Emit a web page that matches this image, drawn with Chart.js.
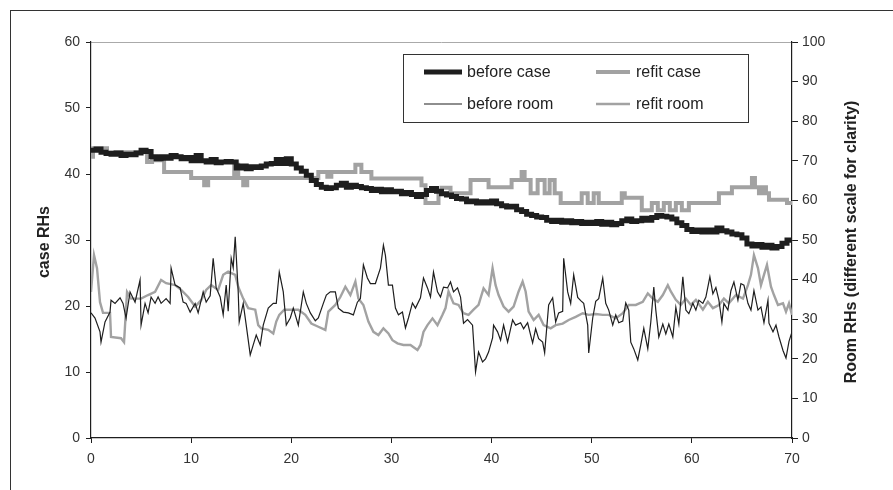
<!DOCTYPE html>
<html>
<head>
<meta charset="utf-8">
<script src="https://cdn.jsdelivr.net/npm/chart.js@4.4.1/dist/chart.umd.min.js"></script>
<style>
  html, body { margin: 0; padding: 0; background: #fff; }
  #wrap { width: 893px; height: 490px; position: relative; }
</style>
</head>
<body>
<div id="wrap"><canvas id="chart" width="893" height="490"></canvas></div>
<script>
// days on the x axis, RH values
const beforeCaseDays = [0, 0.5, 1, 1.5, 2, 2.5, 3, 3.5, 4, 4.5, 5, 5.5, 6, 6.5, 7, 7.5, 8, 8.5, 9, 9.5,
  10, 10.5, 11, 11.5, 12, 12.5, 13, 13.5, 14, 14.5, 15, 15.5, 16, 16.5, 17, 17.5, 18, 18.5, 19, 19.5,
  20, 20.5, 21, 21.5, 22, 22.5, 23, 23.5, 24, 24.5, 25, 25.5, 26, 26.5, 27, 27.5, 28, 28.5, 29, 29.5,
  30, 30.5, 31, 31.5, 32, 32.5, 33, 33.5, 34, 34.5, 35, 35.5, 36, 36.5, 37, 37.5, 38, 38.5, 39, 39.5,
  40, 40.5, 41, 41.5, 42, 42.5, 43, 43.5, 44, 44.5, 45, 45.5, 46, 46.5, 47, 47.5, 48, 48.5, 49, 49.5,
  50, 50.5, 51, 51.5, 52, 52.5, 53, 53.5, 54, 54.5, 55, 55.5, 56, 56.5, 57, 57.5, 58, 58.5, 59, 59.5,
  60, 60.5, 61, 61.5, 62, 62.5, 63, 63.5, 64, 64.5, 65, 65.5, 66, 66.5, 67, 67.5, 68, 68.5, 69, 69.5, 70];
const beforeCaseRH = [43.6, 43.8, 43.3, 43.1, 43.0, 43.2, 42.8, 43.0, 42.9, 43.2, 43.6, 43.4, 42.6, 42.3, 42.6, 42.4, 42.8, 42.6, 42.3, 42.5,
  42.0, 42.8, 42.0, 41.8, 42.2, 41.7, 41.8, 41.9, 41.8, 40.9, 41.2, 40.8, 41.1, 41.0, 41.2, 41.5, 41.6, 42.2, 41.6, 42.3,
  41.5, 40.9, 40.4, 39.8, 39.0, 38.4, 38.0, 37.8, 37.9, 38.3, 38.6, 38.0, 38.3, 38.1, 37.9, 37.8, 37.5, 37.7, 37.3, 37.6,
  37.3, 37.4, 37.0, 37.2, 36.9, 36.6, 36.9, 37.5, 37.8, 37.4, 37.0, 36.8, 36.6, 36.3, 36.2, 35.8, 35.9, 35.6, 35.8, 35.6,
  35.9, 35.5, 35.2, 35.0, 35.1, 34.6, 34.3, 33.9, 33.7, 33.5, 33.4, 33.0, 32.8, 33.0, 32.7, 32.9, 32.6, 32.8, 32.5, 32.7,
  32.5, 32.8, 32.4, 32.7, 32.3, 32.5, 32.9, 33.2, 32.8, 32.9, 33.3, 33.0, 33.4, 33.7, 33.6, 33.5, 33.2, 32.6, 32.2, 31.6,
  31.3, 31.5, 31.2, 31.5, 31.2, 31.8, 31.4, 31.2, 30.9, 30.8, 30.3, 29.4, 29.1, 29.3, 28.9, 29.2, 28.8, 29.0, 29.5, 30.0, 29.6];

// refit case is logged in steps: day where each new level starts
const refitCaseDays = [0, 0.2, 1.6, 5.6, 6.1, 7.3, 10.0, 11.3, 11.7, 14.3, 14.7, 15.2, 15.6, 22.7, 23.6, 24.0, 26.4, 27.0, 28.0,
  33.0, 33.4, 34.7, 35.0, 35.9, 37.9, 39.7, 42.0, 43.0, 43.3, 43.9, 44.6, 45.3, 45.8, 46.3, 46.9,
  49.0, 49.6, 50.2, 50.7, 53.0, 53.3, 55.0, 56.0, 56.6, 57.2, 57.8, 58.4, 59.0, 59.7, 62.7, 64.0,
  66.0, 66.3, 66.7, 67.0, 67.4, 67.7, 69.5, 70];
const refitCaseRH = [42.6, 43.9, 43.3, 41.8, 42.1, 40.3, 39.4, 38.3, 39.4, 41.4, 39.4, 38.3, 39.4, 40.3, 39.6, 40.3, 41.4, 40.3, 39.3,
  38.3, 35.6, 37.3, 37.9, 37.1, 39.1, 38.0, 39.1, 40.3, 39.1, 37.1, 39.1, 37.1, 39.1, 37.1, 35.6,
  37.1, 35.6, 37.1, 35.6, 37.1, 36.4, 34.5, 35.6, 34.5, 35.6, 34.5, 35.6, 34.5, 35.6, 37.1, 38.0,
  39.4, 38.0, 37.1, 38.0, 37.1, 36.1, 35.6, 35.6];

const beforeRoomDays = [0, 0.4, 0.9, 1.0, 1.4, 1.9, 2.0, 2.4, 2.9, 3.2, 3.5, 3.9, 4.4, 4.9, 5.0, 5.4, 5.7, 6.0, 6.4, 6.7,
  7.0, 7.5, 7.9, 8.0, 8.4, 8.9, 9.2, 9.5, 9.9, 10.4, 10.7, 11.2, 11.5, 11.9, 12.2, 12.5, 12.9, 13.2, 13.5, 13.7,
  14.0, 14.2, 14.4, 14.7, 14.8, 15.2, 15.5, 15.9, 16.2, 16.5, 16.9, 17.2, 17.7, 18.2, 18.5, 18.8, 19.2, 19.5, 19.9, 20.2,
  20.7, 21.2, 21.5, 21.9, 22.4, 22.7, 23.2, 23.5, 23.9, 24.4, 24.7, 25.2, 25.7, 26.2, 26.6, 26.9, 27.2, 27.6, 27.9, 28.4,
  28.9, 29.2, 29.4, 29.7, 30.1, 30.4, 30.7, 31.1, 31.4, 31.7, 32.1, 32.4, 32.9, 33.2, 33.6, 33.9, 34.2, 34.6, 34.9, 35.2,
  35.6, 35.9, 36.2, 36.6, 36.9, 37.2, 37.6, 38.1, 38.4, 38.7, 39.1, 39.4, 39.7, 40.1, 40.2, 40.6, 40.9, 41.2, 41.6, 42.1,
  42.4, 42.9, 43.2, 43.6, 43.9, 44.1, 44.4, 44.7, 45.1, 45.3, 45.7, 46.1, 46.4, 46.7, 47.1, 47.2, 47.6, 47.9, 48.2, 48.6,
  48.9, 49.2, 49.6, 49.7, 50.1, 50.4, 50.7, 51.1, 51.4, 51.7, 52.1, 52.4, 52.7, 53.1, 53.4, 53.7, 53.9, 54.2, 54.6, 54.9,
  55.2, 55.6, 55.9, 56.2, 56.4, 56.7, 57.1, 57.4, 57.7, 58.1, 58.4, 58.7, 59.1, 59.4, 59.7, 60.1, 60.4, 60.7, 61.1, 61.4,
  61.8, 62.1, 62.4, 62.7, 63.0, 63.2, 63.6, 63.9, 64.2, 64.6, 64.9, 65.2, 65.6, 65.9, 66.2, 66.6, 66.9, 67.2, 67.6, 67.7,
  68.1, 68.4, 68.7, 69.1, 69.4, 69.7, 70.0];
const beforeRoomRH = [31.6, 30.3, 26.8, 24.2, 29.3, 31.8, 34.8, 34.0, 35.4, 34.0, 30.3, 36.9, 34.3, 39.9, 28.5, 34.0, 31.6, 35.6, 34.0, 35.6,
  34.0, 35.2, 34.0, 42.9, 38.6, 37.9, 34.3, 34.0, 31.8, 34.0, 31.6, 36.9, 34.3, 35.9, 45.4, 37.9, 35.6, 31.1, 38.6, 32.0,
  45.4, 43.0, 50.8, 36.9, 29.3, 34.0, 28.5, 21.0, 23.5, 26.0, 23.5, 28.5, 32.8, 34.0, 34.0, 41.9, 36.9, 28.5, 30.3, 32.8,
  28.5, 36.9, 34.0, 31.6, 29.6, 30.3, 34.0, 36.1, 36.9, 36.9, 32.8, 31.8, 31.6, 31.1, 34.3, 35.2, 43.7, 40.4, 39.0, 39.0,
  42.9, 48.7, 46.1, 38.6, 38.6, 32.8, 31.1, 31.8, 27.8, 30.3, 34.1, 32.8, 35.4, 40.4, 37.9, 35.6, 41.9, 36.9, 35.6, 38.1,
  37.9, 39.4, 36.9, 37.9, 35.6, 29.0, 29.9, 28.5, 16.7, 21.7, 19.2, 20.0, 21.7, 25.3, 28.5, 26.8, 24.7, 28.5, 24.2, 29.8,
  28.5, 29.1, 27.6, 29.1, 26.0, 24.0, 27.6, 25.1, 24.2, 21.5, 33.6, 35.4, 29.3, 31.6, 32.0, 45.4, 36.9, 34.0, 41.2, 35.5,
  34.7, 34.0, 28.5, 21.5, 30.3, 34.5, 35.2, 40.4, 34.0, 32.3, 28.5, 31.1, 29.1, 29.5, 34.1, 32.3, 24.2, 22.5, 19.7, 23.5,
  27.7, 22.5, 29.3, 38.1, 32.3, 25.5, 28.8, 26.3, 28.8, 25.5, 33.0, 28.8, 40.7, 32.3, 31.4, 34.0, 32.3, 34.8, 34.0, 35.6,
  40.7, 36.4, 38.0, 34.8, 29.3, 34.0, 32.3, 37.2, 39.4, 34.8, 39.0, 38.6, 34.0, 32.3, 37.2, 32.3, 33.1, 29.1, 34.8, 29.0,
  26.8, 28.5, 25.5, 22.1, 20.2, 24.4, 26.8];

const refitRoomDays = [0, 0.3, 0.6, 0.9, 1.2, 1.9, 2.0, 3.0, 3.3, 3.6, 4.0, 5.0, 5.7, 6.4, 7.0, 7.5, 8.4, 9.0, 9.7, 10.4,
  11.0, 11.5, 12.0, 12.7, 13.2, 13.7, 14.4, 14.7, 15.2, 15.7, 16.4, 16.7, 17.0, 17.7, 18.2, 18.5, 18.8, 19.3, 20.0, 20.7,
  21.4, 22.0, 22.7, 23.4, 23.7, 24.4, 24.9, 25.4, 25.9, 26.4, 26.7, 27.2, 27.7, 28.2, 28.7, 29.2, 29.7, 30.1, 30.6, 31.2,
  31.9, 32.6, 32.9, 33.2, 33.6, 34.1, 34.6, 35.1, 35.4, 35.7, 36.2, 36.7, 37.2, 37.7, 38.2, 38.7, 39.2, 39.7, 40.1, 40.4,
  40.7, 41.2, 41.7, 42.2, 42.7, 43.1, 43.4, 43.7, 44.2, 44.7, 45.2, 45.9, 46.4, 47.1, 47.7, 48.4, 49.1, 49.7, 50.4, 51.1,
  51.7, 52.4, 53.1, 53.7, 54.4, 55.1, 55.6, 56.1, 56.6, 57.1, 57.6, 57.9, 58.4, 58.9, 59.4, 59.9, 60.4, 61.1, 61.6, 62.1,
  62.7, 63.2, 63.7, 64.4, 65.1, 65.6, 65.9, 66.2, 66.6, 66.9, 67.2, 67.5, 67.9, 68.2, 68.6, 69.1, 69.4, 69.7, 70.0];
const refitRoomRH = [36.9, 46.2, 42.9, 34.3, 31.6, 31.6, 25.5, 25.2, 24.2, 36.9, 35.2, 35.2, 36.1, 36.9, 39.9, 39.1, 38.6, 37.4, 35.6, 33.2,
  34.8, 37.4, 38.6, 37.4, 41.2, 42.0, 41.2, 38.2, 35.2, 32.8, 32.4, 28.5, 27.7, 27.3, 26.4, 29.4, 31.1, 32.4, 32.4, 32.4,
  31.1, 28.9, 28.1, 27.3, 31.9, 33.6, 35.6, 38.2, 36.1, 39.5, 35.2, 33.6, 29.4, 26.8, 26.0, 27.7, 26.4, 24.7, 23.9, 23.5,
  23.5, 22.2, 23.5, 26.8, 28.5, 30.2, 28.5, 31.1, 32.8, 37.0, 34.0, 33.6, 31.5, 31.1, 32.4, 33.6, 37.8, 36.1, 42.9, 38.6,
  36.1, 33.2, 31.9, 33.2, 37.0, 39.5, 37.0, 31.9, 29.8, 31.1, 28.5, 27.7, 28.5, 28.9, 29.8, 30.6, 31.5, 31.1, 31.3, 31.1,
  31.1, 30.2, 31.5, 33.6, 33.6, 34.4, 36.5, 35.2, 34.4, 36.1, 38.6, 37.0, 34.9, 33.6, 35.2, 33.6, 34.9, 32.4, 34.4, 32.8,
  33.6, 35.2, 34.0, 36.1, 35.2, 38.6, 41.2, 46.2, 42.9, 38.6, 41.2, 43.7, 38.2, 36.1, 33.6, 34.0, 31.9, 34.0, 31.1];

const seriesLabels = ['before case', 'refit case', 'before room', 'refit room'];
const leftTitle = 'case RHs';
const rightTitle = 'Room RHs (different scale for clarity)';

const DARK = '#1e1e1e';
const GREY = '#a2a2a2';
const FONT = '"Liberation Sans", Arial, sans-serif';

const toPoints = (days, values) => days.map((day, i) => ({ x: day, y: values[i] }));

// white page, outer frame and the light top edge of the plot
const framePlugin = {
  id: 'frame',
  beforeDraw(chart) {
    const { ctx, chartArea } = chart;
    ctx.save();
    ctx.fillStyle = '#fff';
    ctx.fillRect(0, 0, chart.width, chart.height);
    ctx.strokeStyle = '#333';
    ctx.lineWidth = 1;
    ctx.strokeRect(10.5, 10.5, chart.width + 20, chart.height + 20);
    ctx.strokeStyle = '#aaa';
    ctx.beginPath();
    ctx.moveTo(chartArea.left, chartArea.top + 0.5);
    ctx.lineTo(chartArea.right, chartArea.top + 0.5);
    ctx.stroke();
    ctx.restore();
  }
};

// axis titles both read bottom-to-top, and the boxed two-column legend
const overlayPlugin = {
  id: 'overlay',
  afterDraw(chart) {
    const { ctx, chartArea } = chart;
    const midY = (chartArea.top + chartArea.bottom) / 2;
    ctx.save();
    ctx.fillStyle = '#222';
    ctx.font = 'bold 16px ' + FONT;
    ctx.textAlign = 'center';
    ctx.textBaseline = 'middle';
    [[45, leftTitle], [852, rightTitle]].forEach(([x, text]) => {
      ctx.save();
      ctx.translate(x, midY + 2);
      ctx.rotate(-Math.PI / 2);
      ctx.fillText(text, 0, 0);
      ctx.restore();
    });

    ctx.strokeStyle = '#333';
    ctx.lineWidth = 1;
    ctx.strokeRect(403.5, 54.5, 345, 68);

    const cols = [{ line: 424, text: 467 }, { line: 596, text: 636 }];
    const rows = [72, 104];
    ctx.font = '16px ' + FONT;
    ctx.textAlign = 'left';
    chart.data.datasets.forEach((ds, i) => {
      const col = cols[i % 2];
      const y = rows[Math.floor(i / 2)];
      ctx.strokeStyle = ds.borderColor;
      ctx.lineWidth = ds.borderWidth;
      ctx.beginPath();
      ctx.moveTo(col.line, y);
      ctx.lineTo(col.text - (i % 2 ? 6 : 5), y);
      ctx.stroke();
      ctx.fillStyle = '#222';
      ctx.fillText(ds.label, col.text, y + 1);
    });
    ctx.restore();
  }
};

const tickFont = { family: FONT, size: 14 };

new Chart(document.getElementById('chart'), {
  type: 'line',
  data: {
    datasets: [
      {
        label: seriesLabels[0],
        data: toPoints(beforeCaseDays, beforeCaseRH),
        yAxisID: 'y',
        borderColor: DARK,
        borderWidth: 5,
        stepped: true,
        pointRadius: 0
      },
      {
        label: seriesLabels[1],
        data: toPoints(refitCaseDays, refitCaseRH),
        yAxisID: 'y',
        borderColor: GREY,
        borderWidth: 4,
        stepped: true,
        pointRadius: 0
      },
      {
        label: seriesLabels[2],
        data: toPoints(beforeRoomDays, beforeRoomRH),
        yAxisID: 'y1',
        borderColor: DARK,
        borderWidth: 1.2,
        pointRadius: 0
      },
      {
        label: seriesLabels[3],
        data: toPoints(refitRoomDays, refitRoomRH),
        yAxisID: 'y1',
        borderColor: GREY,
        borderWidth: 2.4,
        pointRadius: 0
      }
    ]
  },
  options: {
    responsive: false,
    animation: false,
    layout: { padding: { top: 42, left: 0, right: 0, bottom: 0 } },
    plugins: { legend: { display: false }, tooltip: { enabled: false } },
    scales: {
      x: {
        type: 'linear',
        min: 0,
        max: 70,
        ticks: { stepSize: 10, color: '#333', font: tickFont, padding: 8 },
        grid: { drawOnChartArea: false, tickLength: 5, color: DARK },
        border: { color: DARK, width: 1.2 },
        afterFit: (scale) => { scale.height = 52; }
      },
      y: {
        position: 'left',
        min: 0,
        max: 60,
        ticks: { stepSize: 10, color: '#333', font: tickFont, padding: 6 },
        grid: { drawOnChartArea: false, tickLength: 5, color: DARK },
        border: { color: DARK, width: 1.2 },
        afterFit: (scale) => { scale.width = 91; }
      },
      y1: {
        position: 'right',
        min: 0,
        max: 100,
        ticks: { stepSize: 10, color: '#333', font: tickFont, padding: 4 },
        grid: { drawOnChartArea: false, tickLength: 6, color: DARK },
        border: { color: DARK, width: 1.2 },
        afterFit: (scale) => { scale.width = 101; }
      }
    }
  },
  plugins: [framePlugin, overlayPlugin]
});
</script>
</body>
</html>
